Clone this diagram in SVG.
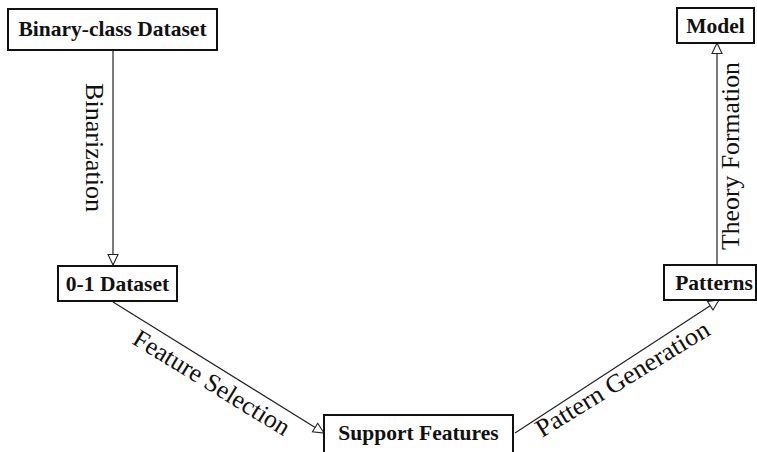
<svg xmlns="http://www.w3.org/2000/svg" width="757" height="452" viewBox="0 0 757 452">
<style>
.box{fill:#fff;stroke:#111;stroke-width:2}
.lbl{font-family:"Liberation Serif","Times New Roman",serif;font-weight:bold;font-size:21.5px;fill:#111;text-anchor:middle}
.edge{font-family:"Liberation Serif","Times New Roman",serif;font-size:25.5px;fill:#111}
.conn{stroke:#222;stroke-width:1.2;fill:none}
</style>
<defs>
<marker id="arr" markerUnits="userSpaceOnUse" markerWidth="14" markerHeight="14" viewBox="0 0 14 14" refX="12" refY="7" orient="auto">
<path d="M1.5,2 L12,7 L1.5,12 Z" fill="#fff" stroke="#222" stroke-width="1.1"/>
</marker>
</defs>
<g id="connectors">
<line class="conn" x1="113" y1="50" x2="113" y2="265" marker-end="url(#arr)"/>
<line class="conn" x1="113" y1="302" x2="324" y2="433" marker-end="url(#arr)"/>
<line class="conn" x1="515" y1="433" x2="719" y2="300" marker-end="url(#arr)"/>
<line class="conn" x1="717" y1="265" x2="717" y2="43" marker-end="url(#arr)"/>
<text class="edge" transform="translate(86,83) rotate(90)" textLength="129" lengthAdjust="spacingAndGlyphs">Binarization</text>
<text class="edge" transform="translate(131,343) rotate(31.5)" textLength="179" lengthAdjust="spacingAndGlyphs">Feature Selection</text>
<text class="edge" transform="translate(542,438) rotate(-31.5)" textLength="199" lengthAdjust="spacingAndGlyphs">Pattern Generation</text>
<text class="edge" transform="translate(739,250) rotate(-90)" textLength="188" lengthAdjust="spacingAndGlyphs">Theory Formation</text>
</g>
<g id="binary-class-dataset">
<rect class="box" x="8" y="9" width="209" height="41"/>
<text class="lbl" x="112.5" y="36">Binary-class Dataset</text>
</g>
<g id="model">
<rect class="box" x="677" y="8" width="77" height="35"/>
<text class="lbl" x="715.5" y="33">Model</text>
</g>
<g id="dataset-01">
<rect class="box" x="58" y="266" width="119" height="35"/>
<text class="lbl" x="117.5" y="291">0-1 Dataset</text>
</g>
<g id="patterns">
<rect class="box" x="664" y="265" width="92" height="35"/>
<text class="lbl" x="714" y="290">Patterns</text>
</g>
<g id="support-features">
<rect class="box" x="324" y="415" width="189" height="40"/>
<text class="lbl" x="418.5" y="440">Support Features</text>
</g>
</svg>
